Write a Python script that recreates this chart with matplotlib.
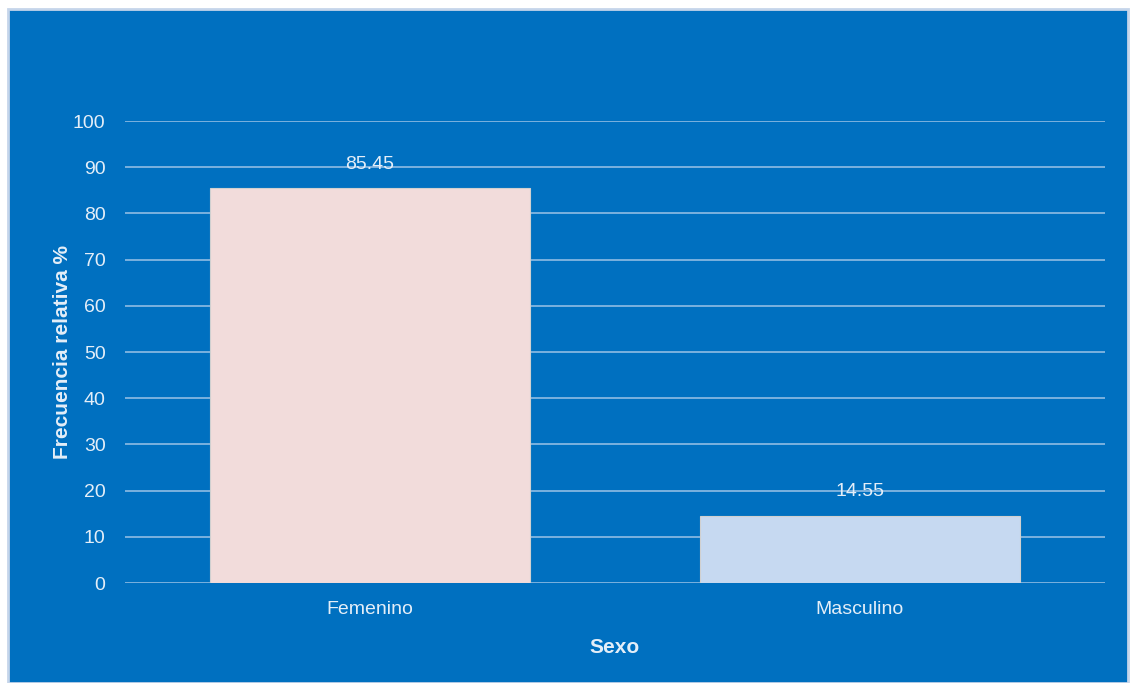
import matplotlib.pyplot as plt
from matplotlib.patches import Rectangle

plt.rcParams['font.family'] = ['Liberation Sans', 'DejaVu Sans']

# Datos
categorias = ['Femenino', 'Masculino']
frecuencia = [85.45, 14.55]
colores = ['#F2DCDB', '#C6D9F1']

fondo = '#0070C0'
texto = '#E4EEF8'

fig = plt.figure(figsize=(11.32, 6.83), dpi=100)
fig.patch.set_facecolor('white')

# Marco azul del gráfico
marco = Rectangle((8 / 1132, 0), 1 - 12 / 1132, 1 - 9 / 683,
                  transform=fig.transFigure, facecolor=fondo,
                  edgecolor='#C5D5EA', linewidth=2, zorder=-10)
fig.add_artist(marco)

ax = fig.add_axes([0.1104, 0.1464, 0.8657, 0.6764])
ax.set_facecolor('none')

x = range(len(categorias))
barras = ax.bar(x, frecuencia, width=0.653, color=colores,
                edgecolor='#D0D0D0', linewidth=0.8, zorder=3)

for xi, v in zip(x, frecuencia):
    ax.text(xi, v + 5.2, f'{v:.2f}', ha='center', va='center',
            color=texto, fontsize=14)

ax.set_xlim(-0.5, 1.5)
ax.set_ylim(0, 100)
ax.set_yticks(range(0, 101, 10))
ax.set_xticks(list(x))
ax.set_xticklabels(categorias)

ax.grid(axis='y', color='#9CC3E6', linewidth=1.1, zorder=1)
ax.set_axisbelow(True)
for s in ax.spines.values():
    s.set_visible(False)
ax.tick_params(axis='both', length=0, colors=texto, labelsize=14)
ax.tick_params(axis='y', pad=14)
ax.tick_params(axis='x', pad=13)

ax.set_ylabel('Frecuencia relativa %', color=texto, fontsize=15,
              fontweight='bold', labelpad=1)
ax.set_xlabel('Sexo', color=texto, fontsize=15, fontweight='bold',
              labelpad=14)

fig.savefig('out.png', dpi=100, facecolor=fig.get_facecolor())
